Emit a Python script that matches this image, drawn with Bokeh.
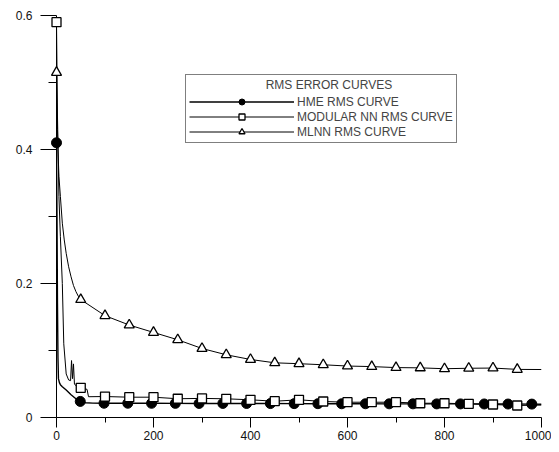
from bokeh.plotting import figure
from bokeh.models import FixedTicker, Legend, LegendItem
from bokeh.embed import file_html
from bokeh.resources import INLINE

# ---------------- data ----------------
x_ticks = [0, 200, 400, 600, 800, 1000]
x_minor = [100, 300, 500, 700, 900]
y_ticks = [0, 0.2, 0.4, 0.6]
y_minor = [0.1, 0.3, 0.5]

legend_title = "RMS ERROR CURVES"
names = ["HME RMS CURVE", "MODULAR NN RMS CURVE", "MLNN RMS CURVE"]

# HME curve
hme_x = [0, 1, 2, 3, 4, 6, 8, 12, 20, 30, 40, 49, 60, 75, 98, 147, 196, 245, 294,
         343, 392, 441, 490, 539, 588, 637, 686, 735, 784, 833, 882, 931, 980, 1000]
hme_y = [0.41, 0.30, 0.17, 0.09, 0.058, 0.052, 0.049, 0.046, 0.041, 0.034, 0.028,
         0.024, 0.022, 0.0215, 0.0213, 0.0213, 0.0212, 0.0211, 0.021, 0.021, 0.0209,
         0.0208, 0.0207, 0.0206, 0.0205, 0.0205, 0.0204, 0.0204, 0.0203, 0.0203,
         0.0202, 0.0201, 0.020, 0.0198]
hme_mx = [0, 49, 98, 147, 196, 245, 294, 343, 392, 441, 490, 539, 588, 637, 686,
          735, 784, 833, 882, 931, 980]
hme_my = [0.41, 0.024, 0.0213, 0.0213, 0.0212, 0.0211, 0.021, 0.021, 0.0209, 0.0208,
          0.0207, 0.0206, 0.0205, 0.0205, 0.0204, 0.0204, 0.0203, 0.0203, 0.0202,
          0.0201, 0.020]

# Modular NN curve
mod_x = [0, 2, 5, 8, 12, 15, 20, 25, 29, 31, 33, 35, 37, 42, 50, 58, 63, 66, 100,
         150, 200, 250, 300, 350, 400, 450, 500, 550, 600, 650, 700, 750, 800, 850,
         900, 950, 1000]
mod_y = [0.59, 0.45, 0.33, 0.27, 0.20, 0.11, 0.065, 0.056, 0.055, 0.085, 0.058,
         0.080, 0.050, 0.046, 0.0443, 0.043, 0.042, 0.031, 0.0313, 0.0303, 0.0303,
         0.028, 0.0285, 0.0279, 0.0264, 0.0243, 0.0264, 0.0239, 0.0228, 0.0228,
         0.0228, 0.0213, 0.0213, 0.0204, 0.0194, 0.0179, 0.0185]
mod_mx = [0, 50, 100, 150, 200, 250, 300, 350, 400, 450, 500, 550, 600, 650, 700,
          750, 800, 850, 900, 950]
mod_my = [0.59, 0.0443, 0.0313, 0.0303, 0.0303, 0.028, 0.0285, 0.0279, 0.0264,
          0.0243, 0.0264, 0.0239, 0.0228, 0.0228, 0.0228, 0.0213, 0.0213, 0.0204,
          0.0194, 0.0179]

# MLNN curve
mlnn_x = [0, 1, 2, 3, 5, 8, 12, 16, 20, 25, 30, 35, 40, 45, 50, 100, 150, 200, 250,
          300, 350, 400, 450, 500, 550, 600, 650, 700, 750, 800, 850, 900, 950, 1000]
mlnn_y = [0.515, 0.47, 0.43, 0.40, 0.36, 0.33, 0.29, 0.265, 0.245, 0.225, 0.21,
          0.197, 0.188, 0.181, 0.176, 0.152, 0.138, 0.127, 0.116, 0.103, 0.0936,
          0.0866, 0.0816, 0.0803, 0.0787, 0.0768, 0.0760, 0.0745, 0.0741, 0.0728,
          0.0735, 0.0738, 0.0718, 0.0716]
mlnn_mx = [0, 50, 100, 150, 200, 250, 300, 350, 400, 450, 500, 550, 600, 650, 700,
           750, 800, 850, 900, 950]
mlnn_my = [0.515, 0.176, 0.152, 0.138, 0.127, 0.116, 0.103, 0.0936, 0.0866, 0.0816,
           0.0803, 0.0787, 0.0768, 0.0760, 0.0745, 0.0741, 0.0728, 0.0735, 0.0738,
           0.0718]

FONT = "Liberation Sans"

p = figure(frame_width=485, frame_height=402,
           x_range=(0, 1000), y_range=(0, 0.6),
           output_backend="svg", toolbar_location=None,
           min_border_left=56, min_border_top=15, min_border_right=10,
           min_border_bottom=20)
p.outline_line_color = None
p.xgrid.visible = False
p.ygrid.visible = False
p.background_fill_color = "white"
p.border_fill_color = "white"

# axes styling
p.xaxis.ticker = FixedTicker(ticks=x_ticks, minor_ticks=x_minor)
p.yaxis.ticker = FixedTicker(ticks=y_ticks, minor_ticks=y_minor)
for ax in (p.xaxis[0], p.yaxis[0]):
    ax.axis_line_color = "black"
    ax.major_tick_line_color = "black"
    ax.minor_tick_line_color = "black"
    ax.major_tick_in = 0
    ax.minor_tick_in = 0
    ax.major_label_text_font = FONT
    ax.major_label_text_font_size = "12px"
    ax.major_label_text_color = "#111111"
p.yaxis.major_tick_out = 16
p.yaxis.minor_tick_out = 8
p.yaxis.major_label_standoff = 8
p.xaxis.major_tick_out = 10
p.xaxis.minor_tick_out = 5
p.xaxis.major_label_standoff = 3

# curves
l_hme = p.line(hme_x, hme_y, line_color="black", line_width=1.4)
l_mod = p.line(mod_x, mod_y, line_color="black", line_width=1)
l_mlnn = p.line(mlnn_x, mlnn_y, line_color="black", line_width=1)

s_hme = p.scatter(hme_mx, hme_my, marker="circle", size=10,
                  fill_color="black", line_color="black")
s_mod = p.scatter(mod_mx, mod_my, marker="square", size=9,
                  fill_color="white", line_color="black", line_width=1.3)
s_mlnn = p.scatter(mlnn_mx, mlnn_my, marker="triangle", size=10,
                   fill_color="white", line_color="black", line_width=1.3)
for r in (s_hme, s_mod, s_mlnn):
    r.level = "overlay"

legend = Legend(items=[
    LegendItem(label=names[0], renderers=[l_hme, s_hme]),
    LegendItem(label=names[1], renderers=[l_mod, s_mod]),
    LegendItem(label=names[2], renderers=[l_mlnn, s_mlnn]),
], location=(129, 274))
legend.title = "\u00a0" * 23 + legend_title
legend.title_text_font = FONT
legend.title_text_font_size = "12px"
legend.title_text_font_style = "normal"
legend.title_standoff = 2
legend.label_text_font = FONT
legend.label_text_font_size = "12px"
legend.label_standoff = 3
legend.glyph_width = 105
legend.glyph_height = 15
legend.label_height = 12
legend.spacing = 0
legend.padding = 3
legend.margin = 0
legend.border_line_color = "black"
legend.border_line_width = 1
legend.background_fill_color = "white"
legend.background_fill_alpha = 1
p.add_layout(legend, "center")

open("out.html", "w").write(file_html(p, INLINE))
